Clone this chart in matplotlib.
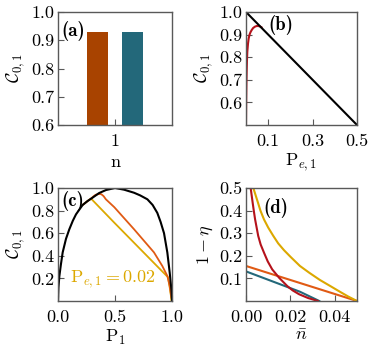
import numpy as np
import matplotlib
matplotlib.use("Agg")
import matplotlib.pyplot as plt

plt.rcParams['font.family'] = 'serif'
plt.rcParams['font.serif'] = ['cmr10']
plt.rcParams['mathtext.fontset'] = 'cm'
plt.rcParams['axes.formatter.use_mathtext'] = True
plt.rcParams['font.size'] = 13

# (a) bars
bar_vals = [0.93, 0.93]
bar_cols = ['#a84300', '#23687a']

# (b) C vs Pe
b_line_x = [0.0, 0.5]
b_line_y = [1.0, 0.5]
b_red_x = [0.0, 0.0005, 0.001, 0.002, 0.003, 0.0045, 0.006, 0.009, 0.012, 0.016, 0.02,
           0.0255, 0.032, 0.04, 0.048, 0.0556, 0.063, 0.07]
b_red_y = [0.5, 0.56, 0.62, 0.69, 0.736, 0.79, 0.825, 0.86, 0.883, 0.9, 0.91,
           0.92, 0.929, 0.935, 0.938, 0.938, 0.936, 0.932]

# (c) C vs P1
c_blk_x = [0.0, 0.004, 0.012, 0.025, 0.041, 0.07, 0.099, 0.13, 0.158, 0.216, 0.26, 0.304,
           0.36, 0.421, 0.5, 0.58, 0.667, 0.72, 0.784, 0.83, 0.871, 0.9, 0.93, 0.959,
           0.98, 0.995, 1.0]
c_blk_y = [0.0, 0.12, 0.22, 0.32, 0.43, 0.55, 0.634, 0.71, 0.767, 0.85, 0.885, 0.915,
           0.955, 0.982, 1.0, 0.985, 0.958, 0.935, 0.9, 0.85, 0.78, 0.7, 0.6, 0.43,
           0.25, 0.1, 0.0]
c_org_x = [0.216, 0.26, 0.29, 0.31, 0.33, 0.36, 0.38, 0.40, 0.42, 0.494, 0.667, 0.842,
           0.915, 0.96, 0.98, 0.995]
c_org_y = [0.85, 0.885, 0.906, 0.925, 0.94, 0.947, 0.945, 0.928, 0.9, 0.83, 0.635, 0.43,
           0.31, 0.22, 0.133, 0.03]
c_yel_x = [0.216, 0.26, 0.29, 0.49, 0.965, 0.98, 0.99, 0.995]
c_yel_y = [0.85, 0.885, 0.906, 0.697, 0.21, 0.12, 0.05, 0.0]

# (d) 1 - eta vs nbar
d_yel_x = [0.0033, 0.0054, 0.0065, 0.0081, 0.01, 0.0123, 0.0145, 0.0171, 0.0201, 0.0243,
           0.0285, 0.0333, 0.038, 0.0423, 0.046, 0.05]
d_yel_y = [0.5, 0.435, 0.40, 0.361, 0.325, 0.288, 0.255, 0.225, 0.195, 0.155,
           0.125, 0.093, 0.066, 0.041, 0.02, 0.0]
d_red_x = [0.0021, 0.003, 0.0035, 0.0041, 0.0055, 0.0066, 0.0081, 0.0098, 0.0118, 0.0149,
           0.0186, 0.021, 0.0239, 0.028, 0.0324]
d_red_y = [0.5, 0.435, 0.40, 0.361, 0.288, 0.25, 0.214, 0.175, 0.14, 0.103,
           0.066, 0.047, 0.03, 0.013, 0.0]
d_org_x = [0.0, 0.05]
d_org_y = [0.155, 0.0]
d_teal_x = [0.0, 0.0243, 0.033]
d_teal_y = [0.131, 0.041, 0.0]

W, H = 375, 352
fig = plt.figure(figsize=(W / 100, H / 100), dpi=100)

def ax_px(l, t, r, b):
    return fig.add_axes([l / W, 1 - b / H, (r - l) / W, (b - t) / H])

axa = ax_px(58, 12, 172, 125)
axb = ax_px(246, 12, 357, 125)
axc = ax_px(58, 188, 172, 301)
axd = ax_px(246, 188, 357, 301)

for ax in (axa, axb, axc, axd):
    ax.tick_params(direction='in', length=4, width=0.8, color='0.35')
    ax.tick_params(axis='x', pad=6)
    ax.tick_params(axis='y', pad=2.5)
    for s in ax.spines.values():
        s.set_color('0.35')
        s.set_linewidth(1.0)

lab_kw = dict(va='center', ha='left', fontfamily='cmb10', fontsize=13.5)

# (a)
axa.bar([1 - 0.18, 1 + 0.18], bar_vals, width=0.22, color=bar_cols)
axa.set_xlim(0.4, 1.6)
axa.set_ylim(0.6, 1.0)
axa.set_xticks([1])
axa.set_xticklabels(['1'])
axa.set_yticks([0.6, 0.7, 0.8, 0.9, 1.0])
axa.set_yticklabels(['0.6', '0.7', '0.8', '0.9', '1.0'])
axa.set_xlabel('n', labelpad=4)
axa.set_ylabel(r'$\mathcal{C}_{0,1}$', labelpad=3)
axa.text(0.03, 0.83, '(a)', transform=axa.transAxes, **lab_kw)

# (b)
axb.plot(b_red_x, b_red_y, color='#b5121b', lw=1.5)
axb.plot(b_line_x, b_line_y, color='black', lw=1.5)
axb.set_xlim(0, 0.5)
axb.set_ylim(0.5, 1.0)
axb.set_xticks([0.1, 0.3, 0.5])
axb.set_xticklabels(['0.1', '0.3', '0.5'])
axb.set_yticks([0.6, 0.7, 0.8, 0.9, 1.0])
axb.set_yticklabels(['0.6', '0.7', '0.8', '0.9', '1.0'])
axb.set_xlabel(r'$\mathrm{P}_{e,1}$', labelpad=2)
axb.set_ylabel(r'$\mathcal{C}_{0,1}$', labelpad=3)
axb.text(0.2, 0.885, '(b)', transform=axb.transAxes, **lab_kw)

# (c)
axc.plot(c_yel_x, c_yel_y, color='#dca800', lw=1.3)
axc.plot(c_org_x, c_org_y, color='#e05a14', lw=1.3)
axc.plot(c_blk_x, c_blk_y, color='black', lw=1.5)
axc.set_xlim(0, 1)
axc.set_ylim(0, 1)
axc.set_xticks([0.0, 0.5, 1.0])
axc.set_xticklabels(['0.0', '0.5', '1.0'])
axc.set_yticks([0.2, 0.4, 0.6, 0.8, 1.0])
axc.set_yticklabels(['0.2', '0.4', '0.6', '0.8', '1.0'])
axc.set_xlabel(r'$\mathrm{P}_1$', labelpad=2)
axc.set_ylabel(r'$\mathcal{C}_{0,1}$', labelpad=3)
axc.text(0.03, 0.885, '(c)', transform=axc.transAxes, **lab_kw)
axc.text(0.105, 0.19, r'$\mathrm{P}_{e,1} = 0.02$', color='#dca800', va='center', ha='left',
         fontsize=13)

# (d)
axd.plot(d_teal_x, d_teal_y, color='#23687a', lw=1.5)
axd.plot(d_org_x, d_org_y, color='#e05a14', lw=1.5)
axd.plot(d_yel_x, d_yel_y, color='#dca800', lw=1.5)
axd.plot(d_red_x, d_red_y, color='#b5121b', lw=1.5)
axd.set_xlim(0, 0.05)
axd.set_ylim(0, 0.5)
axd.set_xticks([0.0, 0.02, 0.04])
axd.set_xticklabels(['0.00', '0.02', '0.04'])
axd.set_yticks([0.1, 0.2, 0.3, 0.4, 0.5])
axd.set_yticklabels(['0.1', '0.2', '0.3', '0.4', '0.5'])
axd.set_xlabel(r'$\bar{n}$', labelpad=2)
axd.set_ylabel(r'$1-\eta$', labelpad=3)
axd.text(0.16, 0.82, '(d)', transform=axd.transAxes, **lab_kw)

fig.savefig('out.png', dpi=100)
